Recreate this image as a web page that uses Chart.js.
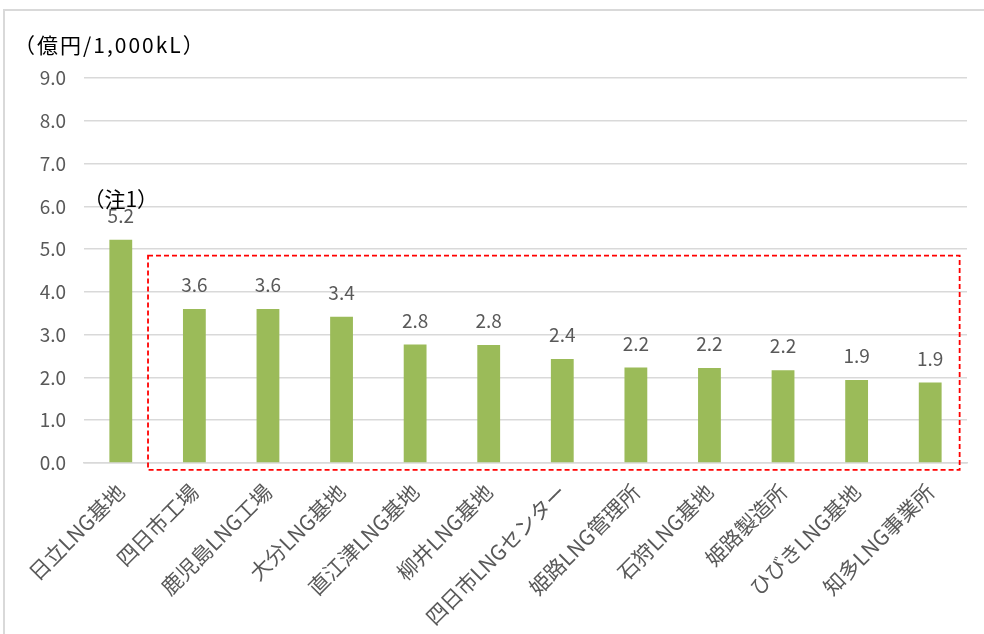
<!DOCTYPE html>
<html>
<head>
<meta charset="utf-8">
<script src="https://cdn.jsdelivr.net/npm/chart.js@4"></script>
<style>
    html, body { margin: 0; padding: 0; background: #fff; }
    #frame {
        position: absolute; left: 3px; top: 9px; width: 990px; height: 640px;
        border-left: 2px solid #d9d9d9; border-top: 2px solid #d9d9d9;
    }
    #wrap { position: absolute; left: 0; top: 0; width: 984px; height: 634px; }
</style>
</head>
<body>
<div id="frame"></div>
<div id="wrap"><canvas id="c"></canvas></div>
<script>
const sites = [
    '日立LNG基地', '四日市工場', '鹿児島LNG工場', '大分LNG基地', '直江津LNG基地', '柳井LNG基地',
    '四日市LNGセンター', '姫路LNG管理所', '石狩LNG基地', '姫路製造所', 'ひびきLNG基地', '知多LNG事業所'
];
const costs = [5.22, 3.6, 3.6, 3.42, 2.77, 2.76, 2.43, 2.23, 2.22, 2.17, 1.94, 1.88];
const yTicks = [0, 1, 2, 3, 4, 5, 6, 7, 8, 9];
const unitLabel = '（億円/1,000kL）';
const noteLabel = '（注1）';

const jpFont = '"Noto Sans CJK JP", "Noto Sans", sans-serif';

// value labels, note, unit title and the red dashed frame
const overlay = {
    id: 'overlay',
    afterDatasetsDraw(chart) {
        const ctx = chart.ctx;
        const x = chart.scales.x;
        const y = chart.scales.y;
        const meta = chart.getDatasetMeta(0);
        ctx.save();
        ctx.font = '19px ' + jpFont;
        ctx.fillStyle = '#595959';
        ctx.textAlign = 'center';
        ctx.textBaseline = 'alphabetic';
        meta.data.forEach((bar, i) => {
            ctx.fillText(costs[i].toFixed(1), bar.x, bar.y - 17);
        });

        ctx.fillStyle = '#000';
        ctx.font = '21px ' + jpFont;
        ctx.textBaseline = 'middle';
        ctx.fillText(noteLabel, x.getPixelForValue(0), y.getPixelForValue(6.18));

        ctx.textAlign = 'left';
        ctx.letterSpacing = '2px';
        ctx.fillText(unitLabel, 14, 45);
        ctx.letterSpacing = '0px';

        const left = x.getPixelForValue(0.37);
        const right = x.getPixelForValue(11.4);
        const top = y.getPixelForValue(4.85);
        const bottom = y.getPixelForValue(-0.16);
        ctx.strokeStyle = '#ff0000';
        ctx.lineWidth = 1.8;
        ctx.setLineDash([5, 3]);
        ctx.strokeRect(left, top, right - left, bottom - top);
        ctx.restore();
    }
};

new Chart(document.getElementById('c'), {
    type: 'bar',
    data: {
        labels: sites,
        datasets: [{
            data: costs,
            backgroundColor: '#9bbb59',
            barPercentage: 0.31,
            categoryPercentage: 1
        }]
    },
    options: {
        responsive: true,
        maintainAspectRatio: false,
        animation: false,
        layout: { padding: { top: 78, right: 17, left: 0, bottom: 0 } },
        plugins: { legend: { display: false }, tooltip: { enabled: false } },
        scales: {
            x: {
                grid: { display: false },
                border: { color: '#d9d9d9', width: 1.5 },
                ticks: {
                    color: '#595959',
                    font: { family: jpFont, size: 21 },
                    minRotation: 45,
                    maxRotation: 45,
                    autoSkip: false,
                    padding: 8
                },
                afterFit(s) { s.height = 634 - 463; }
            },
            y: {
                min: 0,
                max: 9,
                afterBuildTicks(s) { s.ticks = yTicks.map(v => ({ value: v })); },
                grid: { color: '#d9d9d9', lineWidth: 1.5, drawTicks: false },
                border: { display: false },
                ticks: {
                    color: '#595959',
                    font: { family: jpFont, size: 19 },
                    padding: 18,
                    callback: v => v.toFixed(1)
                },
                afterFit(s) { s.width = 84; }
            }
        }
    },
    plugins: [overlay]
});
</script>
</body>
</html>
